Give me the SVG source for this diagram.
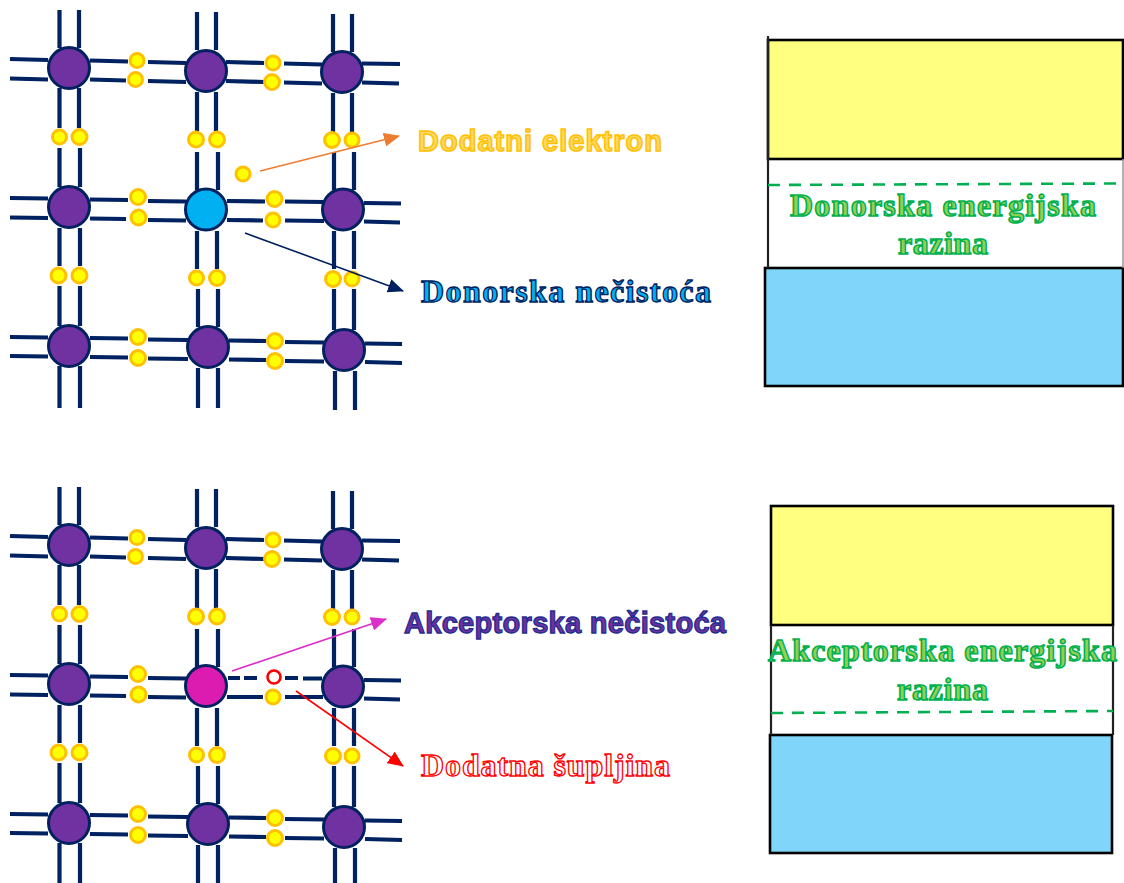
<svg xmlns="http://www.w3.org/2000/svg" width="1124" height="883" viewBox="0 0 1124 883">
<defs>
<style>
.b{stroke:#002060;stroke-width:4.2;fill:none}
.a{fill:#7030A0;stroke:#002060;stroke-width:3}
.e{fill:#FFFF00;stroke:#FFC000;stroke-width:3}
.band{stroke:#000;stroke-width:2.6}
.side{stroke:#222;stroke-width:2.2;fill:none}
.lvl{stroke:#00B050;stroke-width:2.6;stroke-dasharray:12 9;fill:none}
.s{font-family:"Liberation Sans",Arial,sans-serif;font-weight:700;font-size:29px}
.r{font-family:"Liberation Serif","Times New Roman",serif;font-weight:700;font-size:32px}
.g{fill:#92D050;stroke:#00B050;stroke-width:1.5}
</style>
<filter id="soft" x="-2%" y="-2%" width="104%" height="104%"><feGaussianBlur stdDeviation="0.45"/></filter>
<marker id="mo" markerUnits="userSpaceOnUse" markerWidth="16" markerHeight="14" refX="15" refY="7" orient="auto"><path d="M0 0L16 7L0 14z" fill="#ED7D31"/></marker>
<marker id="mn" markerUnits="userSpaceOnUse" markerWidth="16" markerHeight="14" refX="15" refY="7" orient="auto"><path d="M0 0L16 7L0 14z" fill="#002060"/></marker>
<marker id="mp" markerUnits="userSpaceOnUse" markerWidth="16" markerHeight="14" refX="15" refY="7" orient="auto"><path d="M0 0L16 7L0 14z" fill="#DC2EC8"/></marker>
<marker id="mr" markerUnits="userSpaceOnUse" markerWidth="16" markerHeight="14" refX="15" refY="7" orient="auto"><path d="M0 0L16 7L0 14z" fill="#FF0000"/></marker>
<g id="bondsH1"><path class="b" d="M10 59L48 60M10 78.500L48 79.500M90 60.500L128 61.500M90 79.500L126 80.500M148 62L186 63M148 81L186 82M226 62L264 63M226 81L264 82M284 63.500L322 64.500M284 82.500L322 83.500M362 63.500L400 64M362 82.500L399 83.500"/></g>
<g id="bondsV"><path class="b" d="M59.500 10V48M79 10V48M197 12V50M216 12V50M333 14V52M352 14V52M59.500 88V128M79 88V128M59.500 148V187M80 148V187M197 92V131M216 92V131M197 152V190M218 152V190M333 93V132M352 93V132M334 152V190M354 152V190M59.500 228V266M80 228V266M59.500 286V326M80 286V326M197 231V269M217 231V269M198 289V327M218 289V327M334 231V269M354 231V269M334 289V330M354 289V330M59.500 366V408M80 366V408M198 368V408M218 368V408M335 371V410M355 371V410"/></g>
<g id="bondsH2"><path class="b" d="M10 198L48 198.500M10 217.500L48 218M90 199.500L128 200M90 218.500L126 219M148 201L186 201.500M148 220L186 220.500M227 201L265 201.500M227 220L263 220.500M285 201.500L324 202M285 220.500L324 221M364 203L401 203.500M364 221.500L400 222.500"/></g>
<g id="bondsH3"><path class="b" d="M10 337L48 337.500M10 356L48 356.500M90 338L128 338.500M90 357L128 357.500M148 339.500L188 340M148 358.500L188 359M229 340.500L266 341M229 359.500L266 360M285 342L324 342.500M285 361L324 361.500M365 343.500L402 344M365 362L402 363"/></g>
<g id="elV"><circle class="e" cx="59.500" cy="137" r="7"/><circle class="e" cx="79.500" cy="137" r="7.500"/><circle class="e" cx="196" cy="139.500" r="7.500"/><circle class="e" cx="217" cy="139.500" r="7.500"/><circle class="e" cx="332" cy="140" r="7.500"/><circle class="e" cx="352" cy="140" r="7"/><circle class="e" cx="58.500" cy="275.500" r="7.500"/><circle class="e" cx="79.500" cy="275.500" r="7.500"/><circle class="e" cx="196.500" cy="278" r="7"/><circle class="e" cx="217" cy="278" r="7.500"/><circle class="e" cx="333" cy="279" r="7.500"/><circle class="e" cx="352" cy="279" r="7"/></g>
<g id="elR1"><circle class="e" cx="137" cy="60.500" r="7"/><circle class="e" cx="135.500" cy="79.500" r="7"/><circle class="e" cx="273" cy="63" r="7"/><circle class="e" cx="272" cy="82" r="7.500"/></g>
<g id="elR3"><circle class="e" cx="138" cy="337" r="7.500"/><circle class="e" cx="138" cy="358" r="7.500"/><circle class="e" cx="275" cy="341" r="7.500"/><circle class="e" cx="275" cy="361" r="7.500"/></g>
<g id="atomsOuter"><circle class="a" cx="69" cy="68" r="20.500"/><circle class="a" cx="206" cy="71" r="20.500"/><circle class="a" cx="342" cy="72" r="20.500"/><circle class="a" cx="69" cy="207" r="20.500"/><circle class="a" cx="343" cy="209.500" r="20.500"/><circle class="a" cx="69" cy="346" r="20.500"/><circle class="a" cx="208" cy="347" r="20.500"/><circle class="a" cx="344" cy="350" r="20.500"/></g>
</defs>

<g id="lattice-top" filter="url(#soft)">
<use href="#bondsV"/><use href="#bondsH1"/><use href="#bondsH2"/><use href="#bondsH3"/>
<use href="#elV"/><use href="#elR1"/><use href="#elR3"/>
<g id="top-row2-electrons"><circle class="e" cx="138" cy="197" r="7.500"/><circle class="e" cx="138.500" cy="217.500" r="7.500"/><circle class="e" cx="274.500" cy="199" r="7.500"/><circle class="e" cx="273" cy="220" r="7"/></g>
<use href="#atomsOuter"/>
<g id="donor-atom"><circle class="a" cx="206" cy="209.500" r="20.500" style="fill:#00B0F0"/></g>
<g id="extra-electron"><circle class="e" cx="243" cy="174" r="7"/></g>
</g>

<g id="lattice-bottom" filter="url(#soft)">
<g transform="translate(0 477)"><use href="#bondsV"/><use href="#bondsH1"/><use href="#bondsH3"/><use href="#elV"/><use href="#elR1"/><use href="#elR3"/></g>
<path class="b" d="M10 675L48 675.500M10 694.500L48 695M90 676.500L128 677M90 695.500L126 696M148 678L186 678.500M148 697L186 697.500M228 678H240M244 678H257M285 678H298M303 678.500H322M227 697H263M285 697H323M364 680L401 680.500M364 698.500L400 699.500"/>
<g id="bottom-row2-electrons"><circle class="e" cx="138" cy="674" r="7.500"/><circle class="e" cx="138.500" cy="694.500" r="7.500"/><circle class="e" cx="273" cy="697" r="7"/><circle cx="274" cy="677" r="6.500" fill="#fff" stroke="#FF0000" stroke-width="2.600"/></g>
<g transform="translate(0 477)"><use href="#atomsOuter"/></g>
<g id="acceptor-atom"><circle class="a" cx="206" cy="686" r="20.500" style="fill:#DC1CB0"/></g>
</g>

<g id="connectors" fill="none">
<line x1="260" y1="171" x2="399" y2="136" stroke="#ED7D31" stroke-width="1.600" marker-end="url(#mo)"/>
<line x1="245" y1="233" x2="403" y2="291" stroke="#002060" stroke-width="1.600" marker-end="url(#mn)"/>
<line x1="232" y1="671" x2="386" y2="619" stroke="#DC2EC8" stroke-width="1.600" marker-end="url(#mp)"/>
<line x1="296" y1="691" x2="403" y2="766" stroke="#FF0000" stroke-width="1.600" marker-end="url(#mr)"/>
</g>

<g id="label-dodatni"><text class="s" x="418" y="151" textLength="244" lengthAdjust="spacing" fill="#FFD966" stroke="#FFC000" stroke-width="1.500">Dodatni elektron</text></g>
<g id="label-donorska"><text class="r" x="421" y="302" textLength="290" lengthAdjust="spacing" fill="#00B0F0" stroke="#002060" stroke-width="1.300">Donorska nečistoća</text></g>
<g id="label-akceptorska"><text class="s" x="404" y="633" textLength="322" lengthAdjust="spacing" fill="#7030A0" stroke="#1F2F8F" stroke-width="1.300">Akceptorska nečistoća</text></g>
<g id="label-supljina"><text class="r" x="421" y="776" textLength="249" lengthAdjust="spacing" fill="#fff" stroke="#FF0000" stroke-width="1.300">Dodatna šupljina</text></g>

<g id="band-top">
<rect x="768" y="40" width="355" height="119" fill="#FFFF80" class="band"/>
<rect x="765" y="268" width="358" height="118" fill="#7FD6FA" class="band"/>
<path class="side" d="M768 36V268"/>
<path d="M1123 159V268" stroke="#999" stroke-width="1.500"/>
<path class="lvl" d="M768 185L1116 183.500"/>
<text class="r g" x="790" y="216" textLength="306" lengthAdjust="spacing">Donorska energijska</text>
<text class="r g" x="898" y="254" textLength="90" lengthAdjust="spacing">razina</text>
</g>

<g id="band-bottom">
<rect x="771" y="506" width="342" height="119" fill="#FFFF80" class="band"/>
<rect x="770" y="735" width="342" height="118" fill="#7FD6FA" class="band"/>
<path class="side" d="M771 625V735M1113 625V735"/>
<path class="lvl" d="M771 713L1113 711"/>
<text class="r g" x="768" y="661" textLength="349" lengthAdjust="spacing">Akceptorska energijska</text>
<text class="r g" x="897" y="700" textLength="91" lengthAdjust="spacing">razina</text>
</g>
</svg>
